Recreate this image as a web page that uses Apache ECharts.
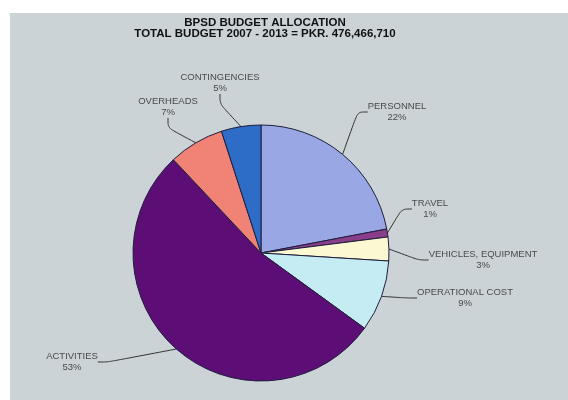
<!DOCTYPE html>
<html>
<head>
<meta charset="utf-8">
<script src="https://cdn.jsdelivr.net/npm/echarts@6/dist/echarts.min.js"></script>
<style>
html,body{margin:0;padding:0;background:#fff;}
#chart{width:568px;height:400px;}
</style>
</head>
<body>
<div id="chart"></div>
<script>
// Data
const categories = ['PERSONNEL', 'TRAVEL', 'VEHICLES, EQUIPMENT', 'OPERATIONAL COST', 'ACTIVITIES', 'OVERHEADS', 'CONTINGENCIES'];
const shares = [22, 1, 3, 9, 53, 7, 5];
const colors = ['#99a7e4', '#8a3d88', '#fbf8d2', '#c6ecf3', '#5c0e76', '#f08276', '#2d6dc8'];
const titleLines = ['BPSD BUDGET ALLOCATION', 'TOTAL BUDGET 2007 - 2013 = PKR. 476,466,710'];

// Label placement (layout only, not data)
const labelPos = [[397,112],[430,209],[483,260],[465,298],[72,362],[168,107],[220,83]];

const chart = echarts.init(document.getElementById('chart'), null, {renderer:'canvas'});
chart.setOption({
  backgroundColor: '#ffffff',
  animation: false,
  graphic: [{
    type: 'rect', z: -1, silent: true,
    shape: {x: 10, y: 13, width: 558, height: 387},
    style: {fill: '#cbd3d6'}
  }],
  title: {
    text: titleLines.join('\n'),
    left: 260, top: 12, textAlign: 'center',
    textStyle: {fontFamily: 'Liberation Sans, Arial, sans-serif', fontSize: 11.5, fontWeight: 'bold', color: '#111', lineHeight: 11}
  },
  series: [{
    type: 'pie',
    center: [261, 253],
    radius: 128,
    startAngle: 90,
    clockwise: true,
    data: categories.map((c, i) => ({name: c, value: shares[i], itemStyle: {color: colors[i]}})),
    itemStyle: {borderColor: '#1e1e3c', borderWidth: 1},
    label: {
      show: true,
      formatter: p => p.name + '\n' + p.value + '%',
      fontFamily: 'Liberation Sans, Arial, sans-serif',
      fontSize: 9.5, color: '#4a4a4a', lineHeight: 11, align: 'center'
    },
    labelLine: {show: true, length: 10, length2: 10, smooth: 0.3, lineStyle: {color: '#333', width: 1}},
    labelLayout: function (params) {
      const p = labelPos[params.dataIndex];
      return {x: p[0], y: p[1], align: 'center', verticalAlign: 'middle'};
    },
    emphasis: {disabled: true}
  }]
});
</script>
</body>
</html>
